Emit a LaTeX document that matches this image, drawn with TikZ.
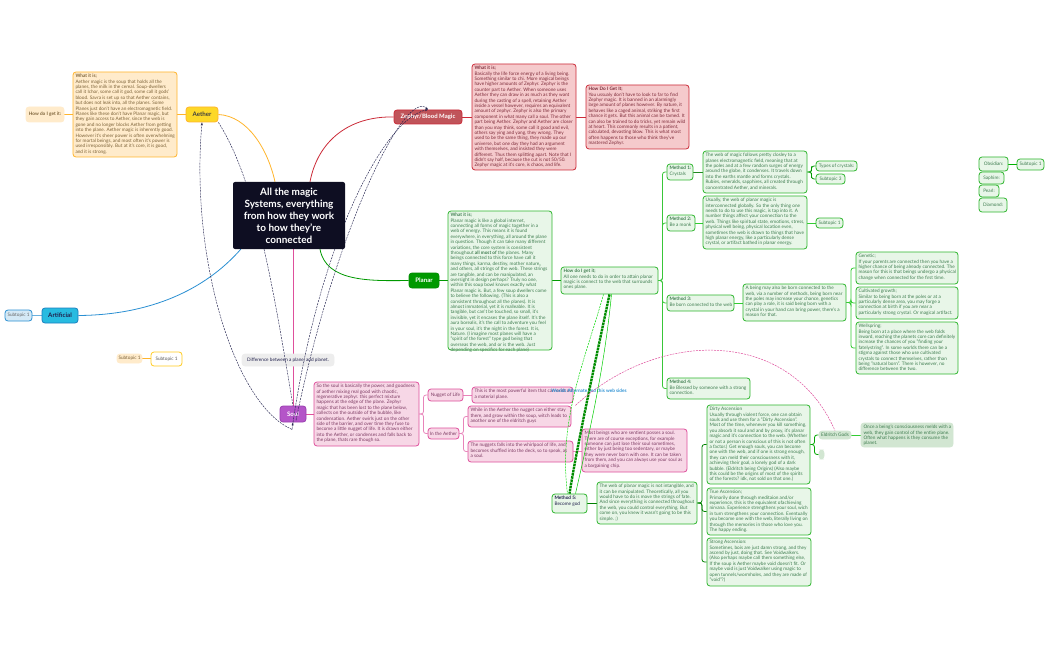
\documentclass[tikz,border=0pt]{standalone}
\usepackage{fontspec}
\setmainfont{Lato}
\usetikzlibrary{calc,arrows.meta}
\pgfdeclarelayer{bg}\pgfdeclarelayer{top}
\pgfsetlayers{bg,main,top}
\definecolor{orangeL}{HTML}{FFB42B}\definecolor{orangeF}{HTML}{FFEBCB}\definecolor{orangeT}{HTML}{7C6238}
\definecolor{redL}{HTML}{CB2B38}\definecolor{redF}{HTML}{F5CACC}\definecolor{redT}{HTML}{7E2C3A}
\definecolor{greenL}{HTML}{2DB52D}\definecolor{greenF}{HTML}{E8F6E8}\definecolor{greenT}{HTML}{3F7D50}
\definecolor{pinkL}{HTML}{DE4F9C}\definecolor{pinkF}{HTML}{F7D7E6}\definecolor{pinkT}{HTML}{7D3B63}
\definecolor{navyD}{HTML}{20204C}\definecolor{softG}{HTML}{D2E6D2}
\definecolor{blueL}{HTML}{2A8FD2}\definecolor{soulF}{HTML}{B455C8}\definecolor{soulL}{HTML}{9A3FB0}
\definecolor{zephF}{HTML}{C0545A}\definecolor{artF}{HTML}{27BBE0}\definecolor{artL}{HTML}{1A7FBF}
\tikzset{
 boxbase/.style={draw,rounded corners=3pt,line width=.8pt,inner sep=0pt,font=\fontsize{4.7}{5.4}\selectfont},
 orangebox/.style={boxbase,draw=orangeL,fill=orangeF,text=orangeT},
 redbox/.style={boxbase,draw=redL,fill=redF,text=redT},
 greenbox/.style={boxbase,draw=greenL,fill=greenF,text=greenT},
 pinkbox/.style={boxbase,draw=pinkL,fill=pinkF,text=pinkT},
 softbox/.style={boxbase,draw=softG,fill=softG,text=greenT},
 bigbox/.style={boxbase,rounded corners=3pt,font=\fontsize{6.2}{7}\selectfont\bfseries},
 conn/.style={line width=.8pt,rounded corners=2.5pt},
 dashcurve/.style={navyD,line width=.45pt,dash pattern=on 2pt off 1pt},
 curveconn/.style={line width=.8pt},
}
\newcommand\tb[7]{%
 \pgfmathsetmacro\bxX{(#2+#4)/2}\pgfmathsetmacro\bxY{(#3+#5)/2}%
 \pgfmathsetmacro\bxW{#4-#2-5}\pgfmathsetmacro\bxH{#5-#3-4}%
 \node[#6,inner xsep=2.5pt,inner ysep=2pt] (#1) at (\bxX,\bxY) {\vbox to \bxH pt{\hbox to \bxW pt{\begin{tabular}[t]{@{}l@{}}#7\end{tabular}\hss}\vss}};}
\newcommand\lb[7]{%
 \pgfmathsetmacro\bxX{(#2+#4)/2}\pgfmathsetmacro\bxY{(#3+#5)/2}%
 \pgfmathsetmacro\bxW{#4-#2}\pgfmathsetmacro\bxH{#5-#3}%
 \node[#6,align=center,minimum width=\bxW pt,minimum height=\bxH pt] (#1) at (\bxX,\bxY) {#7};}
\newcommand\elbow[3]{\draw[conn,#3] (#1.east) -| ($(#1.east)!.5!(#2.west)$) |- (#2.west);}
\begin{document}
\begin{tikzpicture}[x=1pt,y=-1pt]
\useasboundingbox (0,0) rectangle (1050,650);
% central
\begin{pgfonlayer}{top}
\node[fill=navyD!45!black,rounded corners=2pt,text=white,minimum width=112pt,minimum height=67pt,align=center,font=\fontsize{10}{12}\selectfont\bfseries,inner sep=0pt] (central) at (289,215.5) {All the magic\\Systems, everything\\from how they work\\to how they're\\connected};
\end{pgfonlayer}
% Aether
\lb{aether}{186}{107}{218}{122}{bigbox,draw=orangeL,fill=yellow!70!orange!85!white,text=black!75}{Aether}
\tb{aetherwhat}{73}{72}{177}{157}{orangebox}{\textbf{What it is;}\\Aether magic is the soup that holds all the\\planes, the milk in the cereal. Soup-dwellers\\call it Ichor, some call it god, some call it gods'\\blood. Savra is set up so that Aether contains,\\but does not leak into, all the planes. Some\\Planes just don't have an electromagnetic field.\\Planes like these don't have Planar magic, but\\they gain access to Aether, since the web is\\gone and no longer blocks Aether from getting\\into the plane. Aether magic is inherently good.\\However it's sheer power is often overwhelming\\for mortal beings, and most often it's power is\\used irresponsibly. But at it's core, it is good,\\and it is strong.}
\lb{aetherhow}{26}{107}{64}{122}{orangebox,draw=orangeF,font=\fontsize{4.7}{5.4}\selectfont\bfseries}{How do I get it:}
% Zephyr
\lb{zephyr}{394}{110}{462}{124}{bigbox,draw=redL,fill=zephF,text=white,font=\fontsize{6}{7}\selectfont\bfseries}{Zephyr/Blood Magic}
\tb{zephyrwhat}{472}{64}{576}{170}{redbox}{\textbf{What it is;}\\Basically the life force energy of a living being.\\Something similar to chi. More magical beings\\have higher amounts of Zephyr. Zephyr is the\\counter part to Aether. When someone uses\\Aether they can draw in as much as they want\\during the casting of a spell, retaining Aether\\inside a vessel however, requires an equivalent\\amount of zephyr. Zephyr is also the primary\\component in what many call a soul. The other\\part being Aether. Zephyr and Aether are closer\\than you may think, some call it good and evil,\\others say ying and yang, they wrong. They\\used to be the same thing, they made up our\\universe, but one day they had an argument\\with themselves, and insisted they were\\different. Thus them splitting apart. Note that I\\didn't say half, because the cut is not 50/50.\\Zephyr magic at it's core, is chaos, and life.}
\tb{zephyrhow}{586}{85}{689}{149}{redbox}{\textbf{How Do I Get It;}\\You ussualy don't have to look to far to find\\Zephyr magic. It is banned in an alarmingly\\large amount of planes however. By nature, it\\behaves like a caged animal, striking the first\\chance it gets. But this animal can be tamed. It\\can also be trained to do tricks, yet remain wild\\at heart. This commonly results in a patient,\\calculated, devasting blow. This is what most\\often happens to those who think they've\\mastered Zephyr.}
% Planar
\lb{planar}{409}{273}{439}{288}{bigbox,draw=green!55!black,fill=green!60!black,text=white}{Planar}
\tb{planarwhat}{448}{211}{552}{350}{greenbox}{\textbf{What it is;}\\Planar magic is like a global internet,\\connecting all forms of magic together in a\\web of energy. This means it is found\\everywhere, in everything, all around the plane\\in question. Though it can take many different\\variations, the core system is consistent\\throughout \textbf{all most of} the planes. Many\\beings connected to this force have call it\\many things, karma, destiny, mother nature,,\\and others, all strings of the web. These strings\\are tangible, and can be manipulated, an\\oversight in design perhaps? Truly no one,\\within this soup bowl knows exactly what\\Planar magic is. But, a few soup dwellers come\\to believe the following. (This is also a\\consistent throughout all the planes). It is\\almost immaterial, yet it is malleable. It is\\tangible, but can't be touched, so small, it's\\invisible, yet it encases the plane itself. It's the\\aura borealis, it's the call to adventure you feel\\in your soul, it's the night in the forest. It is,\\Nature. (I imagine most planes will have a\\"spirit of the forest" type god being that\\overseas the web, and or is the web. Just\\depending on specifics for each plane)}
\tb{planarhow}{561}{267}{658}{294}{greenbox}{\textbf{How do I get it;}\\All one needs to do in order to attain planar\\magic is connect to the web that surrounds\\ones plane.}
\tb{mone}{667}{164}{693}{180}{greenbox}{\textbf{Method 1:}\\Crystals}
\tb{webmagic}{703}{151}{807}{193}{greenbox}{The web of magic follows pretty closley to a\\planes electromagnetic field, meaning that at\\the poles and at a few random surges of energy\\around the globe, it condenses. It travels down\\into the earths mantle and forms crystals.\\Rubies, emeralds, sapphires, all created through\\concentrated Aether, and minerals.}
\lb{types}{816}{161}{857}{171}{greenbox}{Types of crystals:}
\lb{subthree}{816}{174}{845}{184}{greenbox}{Subtopic 3}
\tb{mtwo}{667}{215}{695}{231}{greenbox}{\textbf{Method 2:}\\Be a monk}
\tb{usually}{703}{196}{807}{249}{greenbox}{Usually, the web of planar magic is\\interconnected globally. So the only thing one\\needs to do to use this magic, is tap into it. A\\number things affect your connection to the\\web. Things like spiritual state, emotions, stress,\\physical well being, physical location even,\\sometimes the web is drawn to things that have\\high planar energy, like a particularly dense\\crystal, or artifact bathed in planar energy.}
\lb{subtwo}{816}{218}{843}{228}{greenbox}{Subtopic 1}
\tb{mthree}{667}{295}{734}{311}{greenbox}{\textbf{Method 3:}\\Be born connected to the web}
\tb{abeing}{743}{284}{846}{321}{greenbox}{A being may also be born connected to the\\web, via a number of methods, being born near\\the poles may increase your chance, genetics\\can play a role, it is said being born with a\\crystal in your hand can bring power, there's a\\reason for that.}
\tb{genetic}{856}{252}{958}{284}{greenbox}{Genetic;\\ If your parents are connected then you have a\\higher chance of being already connected. The\\reason for this is that beings undergo a physical\\change when connected for the first time.}
\tb{cultivated}{856}{287}{958}{319}{greenbox}{Cultivated growth;\\Similar to being born at the poles or at a\\particularly dense area, you may forge a\\connection at birth if you are near a\\particularly strong crystal. Or magical artifact.}
\tb{wellspring}{856}{322}{958}{374}{greenbox}{Wellspring;\\Being born at a place where the web folds\\inward, reaching the planets core can definitely\\increase the chances of you "finding your\\fatelystring". In some worlds there can be a\\stigma against those who use cultivated\\crystals to connect themselves, rather than\\being "natural born". There is however, no\\difference between the two.}
\tb{mfour}{667}{378}{750}{399}{greenbox}{\textbf{Method 4:}\\Be Blessed by someone with a strong\\connection.}
\tb{mfive}{552}{494}{587}{513}{greenbox,text=navyD}{\textbf{Method 5:}\\Become god}
\tb{webplanar}{597}{482}{697}{524}{greenbox}{The web of planar magic is not intangible, and\\it can be manipulated. Theoretically, all you\\would have to do is move the strings of fate.\\And since everything is connected throughout\\the web, you could control everything. But\\come on, you knew it wasn't going to be this\\simple. ;)}
\tb{dirty}{707}{405}{810}{484}{greenbox}{Dirty Ascension\\Usually through violent force, one can obtain\\souls and use them for a "Dirty Ascension".\\Most of the time, whenever you kill something,\\you absorb it soul and and by proxy, it's planar\\magic and it's connection to the web. (Whether\\or not a person is conscious of this is not often\\a factor.) Get enough souls, you can become\\one with the web, and if one is strong enough,\\they can meld their consciousness with it,\\achieving their goal, a lonely god of a dark\\bubble. (Eldritch being Origins) (Also maybe\\this could be the origins of most of the spirits\\of the forests? idk, not sold on that one.)}
\tb{trueasc}{707}{488}{811}{535}{greenbox}{True Ascension;\\Primarily done through meditaion and/or\\experience, this is the equivalent ofachieving\\nirvana. Experience strengthens your soul, wich\\in turn strengthens your connection. Eventually\\you become one with the web, literally living on\\through the memories in those who love you.\\The happy ending.}
\tb{strongasc}{707}{538}{811}{586}{greenbox}{Strong Ascension:\\Sometimes, bois are just damn strong, and they\\ascend by just, doing that. See Voidwalkers.\\(Also perhaps maybe call them something else,\\If the soup is Aether maybe void doesn't fit. Or\\maybe void is just Voidwalker using magic to\\open tunnels/wormholes, and they are made of\\"void"?)}
\lb{eldritch}{819}{431}{851}{439}{softbox}{Eldritch Gods}
\lb{emptygod}{819}{450}{824}{459}{softbox}{}
\tb{once}{861}{423}{953}{447}{softbox}{Once a being's consciousness melds with a\\web, they gain control of the entire plane.\\Often what happens is they consume the\\planet.}
\lb{obsidian}{979}{157}{1008}{171}{greenbox}{Obsidian:}
\lb{saphire}{979}{172}{1004}{184}{greenbox}{Saphire:}
\lb{pearl}{979}{185}{999}{197}{greenbox}{Pearl:}
\lb{diamond}{979}{198}{1007}{212}{greenbox}{Diamond:}
\lb{subfar}{1017}{159}{1044}{170}{greenbox}{Subtopic 1}
% Artificial and loose
\lb{artificial}{42}{308}{78}{323}{bigbox,draw=artL,fill=artF,text=navyD}{Artificial}
\lb{subblue}{5}{310}{32}{321}{boxbase,draw=blueL,fill=blueL!20,text=black!60}{Subtopic 1}
\lb{subyellow}{151}{352}{182}{366}{boxbase,draw=orangeL!70!yellow,fill=white,text=black!65}{Subtopic 1}
\lb{suborange}{117}{354}{142}{363}{orangebox,draw=orangeF,text=orangeT}{Subtopic 1}
\lb{difference}{242}{354}{334}{366}{boxbase,draw=black!7,fill=black!7,text=navyD}{Difference between a plane, and planet.}
% Soul
\lb{soul}{280}{406}{306}{422}{bigbox,draw=soulL,fill=soulF,text=white}{Soul}
\tb{soulwhat}{314}{382}{419}{446}{pinkbox}{So the soul is basically the power, and goodness\\of aether mixing real good with chaotic,\\regenerative zephyr. this perfect mixture\\happens at the edge of the plane. Zephyr\\magic that has been lost to the plane below,\\collects on the outside of the bubble, like\\condensation. Aether swirls just on the other\\side of the barrier, and over time they fuse to\\become a little nugget of life. It is drawn either\\into the Aether, or condenses and falls back to\\the plane, thats rare though so.}
\lb{nugget}{428}{389}{463}{401}{pinkbox}{Nugget of Life}
\lb{intheaether}{428}{428}{459}{439}{pinkbox}{In the Aether}
\tb{powerful}{472}{387}{573}{403}{pinkbox}{This is the most powerful item that can exist on\\a material plane.}
\tb{whilein}{468}{406}{571}{427}{pinkbox}{While in the Aether the nugget can either stay\\there, and grow within the soup, witch leads to\\another one of the eldritch guys}
\tb{nuggets}{468}{441}{573}{462}{pinkbox}{The nuggets falls into the whirlpool of life, and\\becomes shuffled into the deck, so to speak, as\\a soul.}
\tb{mostbeings}{582}{429}{687}{472}{pinkbox}{Most beings who are sentient posses a soul.\\There are of course exceptions, for example\\someone can just lose their soul sometimes,\\either by just being too sedentary, or maybe\\they were never born with one. It can be taken\\from them, and you can always use your soul as\\a bargaining chip.}
\node[text=blueL,font=\fontsize{4.7}{5.3}\selectfont\bfseries,inner sep=0pt] (bluetext) at (589,391) {Worlds Alternate and this web sides};
% connectors behind
\begin{pgfonlayer}{bg}
\draw[curveconn,orangeL] (aether.east) .. controls (248,116) and (268,150) .. ($(central.north)+(-14,0)$);
\draw[curveconn,redL] (zephyr.west) .. controls (350,116) and (318,140) .. ($(central.north)+(21,0)$);
\draw[curveconn,green!60!black] ($(central.south)+(31,0)$) .. controls (326,282) and (370,281) .. (planar.west);
\draw[curveconn,blueL] ($(central.south west)+(8,0)$) .. controls (205,290) and (150,315) .. (artificial.east);
\draw[curveconn,pinkL] ($(central.south)+(4,0)$) -- (soul.north);
\draw[conn,orangeL] (aetherhow.east) -- (aetherwhat.west |- aetherhow.east);
\draw[conn,orangeL] (aetherwhat.east |- aether.west) -- (aether.west);
\draw[conn,redL] (zephyr.east) -- (zephyrwhat.west |- zephyr.east);
\draw[conn,redL] (zephyrwhat.east |- zephyrhow.west) -- (zephyrhow.west);
\draw[conn,green!60!black] (planar.east) -- (planarwhat.west |- planar.east);
\draw[conn,green!60!black] (planarwhat.east |- planarhow.west) -- (planarhow.west);
\foreach \tgt in {mone,mtwo,mthree,mfour}{\elbow{planarhow}{\tgt}{green!55!gray}}
\draw[conn,greenL!75!black] (mone.east) -- (webmagic.west |- mone.east);
\elbow{webmagic}{types}{green!60!black}
\elbow{webmagic}{subthree}{green!60!black}
\draw[conn,green!60!gray] (mtwo.east) -- (usually.west |- mtwo.east);
\draw[conn,green!60!gray] (usually.east |- subtwo.west) -- (subtwo.west);
\draw[conn,green!60!gray] (mthree.east) -- (abeing.west |- mthree.east);
\foreach \tgt in {genetic,cultivated,wellspring}{\elbow{abeing}{\tgt}{green!60!gray}}
\draw[conn,green!50!black] (mfive.east) -- (webplanar.west |- mfive.east);
\foreach \tgt in {dirty,trueasc,strongasc}{\elbow{webplanar}{\tgt}{green!50!black}}
\elbow{dirty}{eldritch}{green!65!black}
\elbow{dirty}{emptygod}{green!65!black}
\draw[conn,green!60!gray] (eldritch.east) -- (once.west |- eldritch.east);
\draw[conn,green!70!black] (obsidian.east) -- (subfar.west |- obsidian.east);
\draw[conn,blueL!70] (subblue.east) -- (artificial.west |- subblue.east);
\draw[conn,orangeL] (suborange.east) -- (subyellow.west |- suborange.east);
\draw[conn,pinkL] (soul.east) -- (soulwhat.west |- soul.east);
\elbow{soulwhat}{nugget}{pinkL!70}
\elbow{soulwhat}{intheaether}{pinkL!70}
\draw[conn,pinkL!70] (nugget.east) -- (powerful.west |- nugget.east);
\elbow{intheaether}{whilein}{pinkL!70}
\elbow{intheaether}{nuggets}{pinkL!70}
\draw[conn,pinkL!70] (nuggets.east) -- (mostbeings.west |- nuggets.east);
\end{pgfonlayer}
% relationship curves
\draw[dashcurve,-{Stealth[length=3pt,width=2pt]}] ($(soul.south)+(-1,7)$) .. controls (235,405) and (190,260) .. (aether.south);
\draw[dashcurve,-{Stealth[length=3pt,width=2pt]}] ($(soul.south)+(-1,7)$) -- (soul.south);
\draw[dashcurve] (aether.south east) .. controls (255,180) and (272,280) .. (soul.north);
\draw[dashcurve,-{Stealth[length=3pt,width=2pt]}] ($(soul.south)+(3,-2)$) .. controls (335,230) and (405,88) .. (zephyr.north);
\draw[dashcurve,-{Stealth[length=3pt,width=2pt]}] (soul.south) .. controls (320,240) and (385,118) .. (zephyr.north);
\draw[green!85!black,line width=.5pt,dash pattern=on 2pt off 1pt] ($(planarhow.south)+(-6,0)$) .. controls (585,360) and (558,420) .. ($(mfive.north)+(-2,0)$);
\draw[green!55!black,line width=2.4pt,dash pattern=on 2.5pt off .7pt] (planarhow.south) .. controls (600,340) and (578,440) .. (mfive.north);
\draw[green!80!black,line width=.5pt] ($(planarhow.south)+(2,0)$) .. controls (604,370) and (590,430) .. ($(mfive.north)+(6,0)$);
\draw[pinkL,line width=.5pt,dash pattern=on 2pt off 1pt] ($(powerful.south east)+(2,2)$) .. controls (660,328) and (790,328) .. (eldritch.north);
\end{tikzpicture}
\end{document}
